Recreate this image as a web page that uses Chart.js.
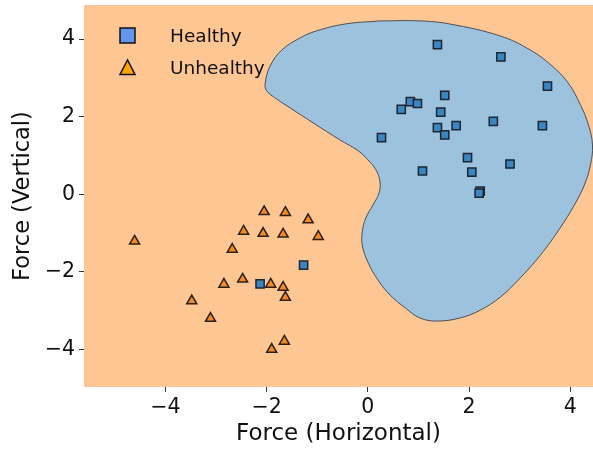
<!DOCTYPE html>
<html>
<head>
<meta charset="utf-8">
<script src="https://cdn.jsdelivr.net/npm/chart.js@4.4.0/dist/chart.umd.min.js"></script>
<style>
  body { margin: 0; background: #fff; }
</style>
</head>
<body>
<canvas id="forceChart" width="593" height="451"></canvas>
<script>
// points
var healthyX = [1.375, 2.63, 3.55, 1.52, 0.84, 0.98, 0.66, 1.44, 2.48, 3.45, 1.745, 1.375, 1.52, 0.27, 1.97, 2.81, 1.08, 2.055, 2.22, 2.20, -1.27, -2.13];
var healthyY = [3.86, 3.54, 2.79, 2.55, 2.39, 2.34, 2.19, 2.12, 1.88, 1.77, 1.77, 1.72, 1.53, 1.46, 0.945, 0.78, 0.60, 0.57, 0.08, 0.03, -1.83, -2.31];

var unhealthyX = [-4.61, -2.05, -1.63, -1.18, -2.455, -2.07, -1.675, -0.98, -2.68, -2.475, -2.845, -1.92, -1.675, -1.63, -3.48, -3.11, -1.65, -1.90];
var unhealthyY = [-1.21, -0.45, -0.47, -0.66, -0.955, -1.01, -1.03, -1.09, -1.42, -2.19, -2.32, -2.32, -2.40, -2.66, -2.75, -3.20, -3.79, -4.00];

// outline of the "Healthy" decision region
var boundaryX = [0.24, 1.03, 1.62, 2.62, 3.21, 3.64, 3.96, 4.20, 4.36, 4.44, 4.40, 4.28, 4.08, 3.80, 3.41, 3.01, 2.62, 2.22, 1.82, 1.37, 1.03, 0.74, 0.44, 0.20, 0.00, -0.11, -0.11, -0.04, 0.10, 0.22, 0.24, 0.16, 0.00, -0.19, -0.55, -1.08, -1.54, -1.84, -2.00, -2.03, -1.93, -1.70, -1.34, -1.02, -0.45, 0.24];
var boundaryY = [4.47, 4.47, 4.39, 4.08, 3.72, 3.31, 2.87, 2.31, 1.79, 1.27, 0.76, 0.24, -0.28, -0.87, -1.57, -2.16, -2.65, -2.99, -3.19, -3.27, -3.19, -2.93, -2.60, -2.21, -1.75, -1.31, -0.97, -0.61, -0.28, 0.03, 0.32, 0.63, 0.89, 1.12, 1.40, 1.84, 2.23, 2.49, 2.67, 2.85, 3.31, 3.72, 4.03, 4.21, 4.39, 4.47];

var xTicks = [-4, -2, 0, 2, 4];
var yTicks = [-4, -2, 0, 2, 4];
var legendLabels = ['Healthy', 'Unhealthy'];

const toPoints = (xs, ys) => xs.map((x, i) => ({x: x, y: ys[i]}));
const tickLabel = (v) => v < 0 ? '\u2212' + Math.abs(v) : String(v);

Chart.defaults.font.family = 'DejaVu Sans';
Chart.defaults.color = '#111';

// orange background behind everything in the plot area
const backgroundPlugin = {
  id: 'plotBackground',
  beforeDraw(chart) {
    const a = chart.chartArea;
    const ctx = chart.ctx;
    ctx.save();
    ctx.fillStyle = '#fec692';
    ctx.fillRect(a.left, a.top, a.right - a.left, a.bottom - a.top);
    ctx.restore();
  }
};

// legend sits inside the plot, top left
const insideLegend = {
  id: 'insideLegend',
  afterDraw(chart) {
    const ctx = chart.ctx;
    ctx.save();
    ctx.lineWidth = 1.5;
    ctx.strokeStyle = '#111';
    // square
    ctx.fillStyle = '#6495ed';
    ctx.fillRect(120, 28, 15, 15);
    ctx.strokeRect(120, 28, 15, 15);
    // triangle
    ctx.fillStyle = '#ffa500';
    ctx.beginPath();
    ctx.moveTo(127.5, 60);
    ctx.lineTo(120, 74.5);
    ctx.lineTo(135, 74.5);
    ctx.closePath();
    ctx.fill();
    ctx.stroke();
    ctx.fillStyle = '#111';
    ctx.font = '18.5px "DejaVu Sans"';
    ctx.textBaseline = 'middle';
    ctx.fillText(legendLabels[0], 170, 37);
    ctx.fillText(legendLabels[1], 170, 69);
    ctx.restore();
  }
};

document.addEventListener('DOMContentLoaded', () => {
  var ctx = document.getElementById('forceChart');

  var options = {
    type: 'scatter',
    data: {
      datasets: [{
        label: legendLabels[0],
        data: toPoints(healthyX, healthyY),
        pointStyle: 'rect',
        pointRadius: 5.8,
        backgroundColor: '#3a86c3',
        borderColor: '#1c2530',
        borderWidth: 1.5
      }, {
        label: legendLabels[1],
        data: toPoints(unhealthyX, unhealthyY),
        pointStyle: 'triangle',
        pointRadius: 5.8,
        backgroundColor: '#f58a20',
        borderColor: '#2a2018',
        borderWidth: 1.5
      }, {
        label: 'region',
        data: toPoints(boundaryX, boundaryY),
        showLine: true,
        fill: 'shape',
        tension: 0.4,
        pointRadius: 0,
        backgroundColor: '#9dc2de',
        borderColor: '#4a4f55',
        borderWidth: 1
      }]
    },
    options: {
      responsive: false,
      animation: false,
      events: [],
      layout: { autoPadding: false, padding: { top: 5, right: 0, left: 0, bottom: 0 } },
      scales: {
        x: {
          type: 'linear',
          min: -5.61,
          max: 4.45,
          ticks: { includeBounds: false, autoSkip: false, maxRotation: 0, padding: 3, font: { size: 20.5 }, callback: tickLabel },
          afterBuildTicks: (s) => { s.ticks = xTicks.map(v => ({value: v})); },
          afterFit: (s) => { s.height = 64; s.paddingLeft = 0; s.paddingRight = 0; },
          grid: { drawOnChartArea: false, drawTicks: true, tickLength: 5, color: '#333' },
          border: { display: false },
          title: { display: true, text: 'Force (Horizontal)', font: { size: 23 }, padding: { top: 0, bottom: 3 } }
        },
        y: {
          type: 'linear',
          min: -4.97,
          max: 4.88,
          ticks: { includeBounds: false, autoSkip: false, padding: 4, font: { size: 20.5 }, callback: tickLabel },
          afterBuildTicks: (s) => { s.ticks = yTicks.map(v => ({value: v})); },
          afterFit: (s) => { s.width = 84; s.paddingTop = 0; s.paddingBottom = 0; },
          grid: { drawOnChartArea: false, drawTicks: true, tickLength: 5, color: '#333' },
          border: { display: false },
          title: { display: true, text: 'Force (Vertical)', font: { size: 22.5 }, padding: { top: 10, bottom: 0 } }
        }
      },
      plugins: {
        legend: { display: false },
        title: { display: false },
        tooltip: { enabled: false }
      }
    },
    plugins: [backgroundPlugin, insideLegend]
  };

  let forceChart = new Chart(ctx, options);
});
</script>
</body>
</html>
